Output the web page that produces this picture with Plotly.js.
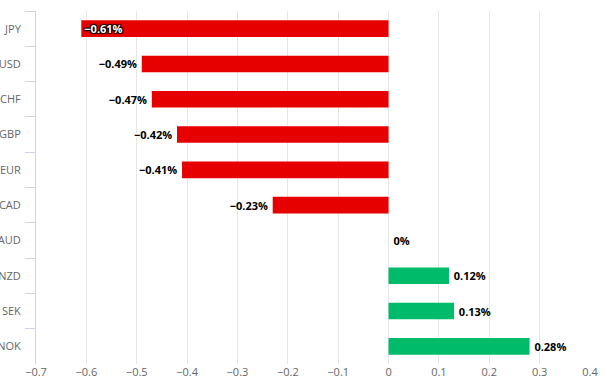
<!DOCTYPE html>
<html>
<head>
<meta charset="utf-8">
<script src="https://cdn.plot.ly/plotly-3.0.1.min.js"></script>
<style>html,body{margin:0;padding:0;background:#fff}#chart{width:609px;height:392px}</style>
</head>
<body>
<div id="chart"></div>
<script>
var currencies = ["JPY","USD","CHF","GBP","EUR","CAD","AUD","NZD","SEK","NOK"];
var changes = [-0.61,-0.49,-0.47,-0.42,-0.41,-0.23,0,0.12,0.13,0.28];
var xTicks = [-0.7,-0.6,-0.5,-0.4,-0.3,-0.2,-0.1,0,0.1,0.2,0.3,0.4];

var colors = changes.map(function(v){ return v < 0 ? "#e60000" : "#00bb6a"; });
var positions = changes.map(function(v){ return v <= -0.55 ? "inside" : "outside"; });
var labels = changes.map(function(v, i){
  var s = (v < 0 ? "\u2212" + Math.abs(v) : String(v)) + "%";
  if (positions[i] === "inside") return s;
  return v < 0 ? s + "\u2009" : "\u2009" + s;
});

var base = {
  type: "bar", orientation: "h",
  y: currencies, x: changes,
  marker: {color: colors, line: {width: 0}},
  width: 0.47,
  text: labels,
  textposition: positions,
  insidetextanchor: "end",
  cliponaxis: false,
  textangle: 0,
  constraintext: "none",
  hoverinfo: "skip",
  insidetextfont: {family: "Open Sans, DejaVu Sans, sans-serif", size: 11, weight: 700, color: "#ffffff", shadow: "1px 1px 1px #000, -1px -1px 1px #000, 1px -1px 1px #000, -1px 1px 1px #000"},
  outsidetextfont: {family: "Open Sans, DejaVu Sans, sans-serif", size: 11, weight: 700, color: "#000000", shadow: "1px 1px 1px #fff, -1px -1px 1px #fff, 1px -1px 1px #fff, -1px 1px 1px #fff"}
};

var layout = {
  width: 609, height: 392,
  margin: {l: 36, r: 19, t: 11, b: 28, pad: 0},
  paper_bgcolor: "#fff", plot_bgcolor: "#fff",
  showlegend: false,
  font: {family: "Open Sans, DejaVu Sans, sans-serif", size: 11, color: "#666666"},
  xaxis: {
    range: [-0.7, 0.4], tickvals: xTicks, ticks: "",
    showgrid: true, gridcolor: "#e6e6e6", gridwidth: 1,
    zeroline: false, showline: false,
    tickfont: {size: 11, color: "#666666"}
  },
  yaxis: {
    type: "category", categoryorder: "array", categoryarray: currencies,
    autorange: "reversed",
    showline: true, linecolor: "#ccd6eb", linewidth: 1,
    ticks: "outside", ticklen: 10, tickcolor: "#ccd6eb", tickson: "boundaries",
    ticklabelstandoff: 12,
    showgrid: false, zeroline: false,
    tickfont: {size: 11, color: "#666666"}
  }
};

Plotly.newPlot("chart", [base], layout, {displayModeBar: false, staticPlot: true});
</script>
</body>
</html>
